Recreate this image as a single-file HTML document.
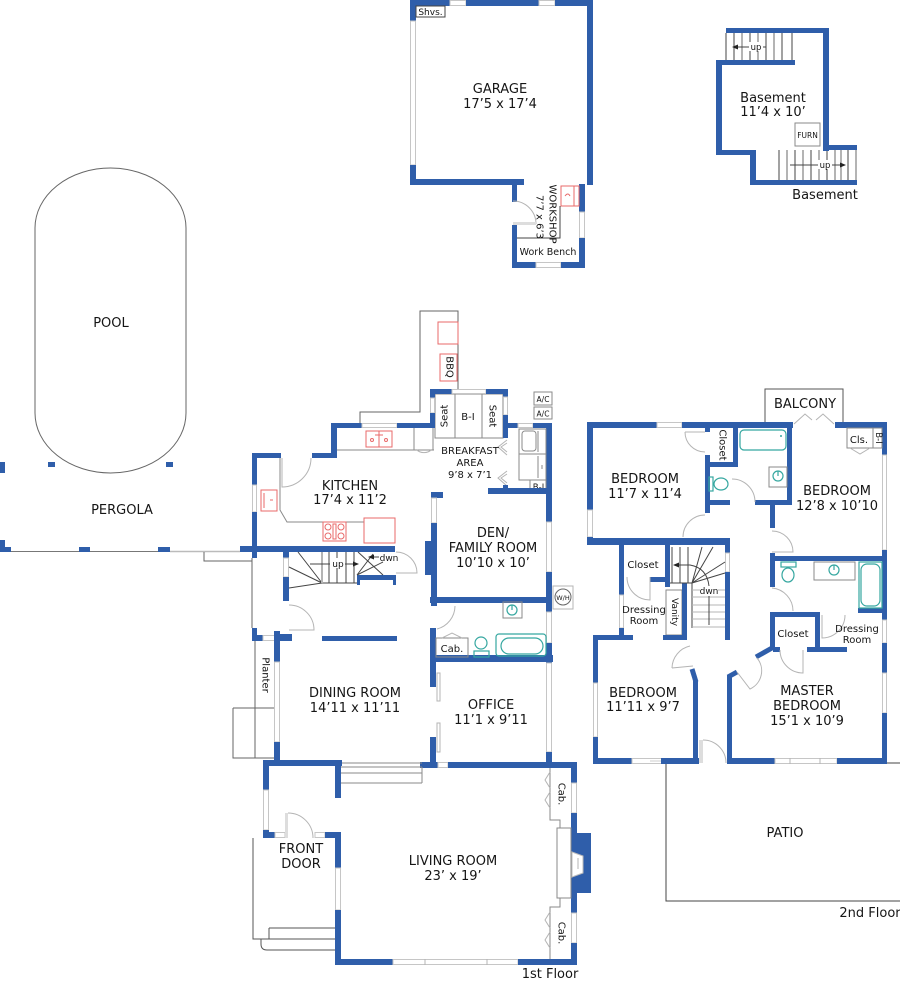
<!DOCTYPE html>
<html><head><meta charset="utf-8"><style>
html,body{margin:0;padding:0;background:#fff;}
svg{display:block}
.w{fill:#2f5eaa}
.n{fill:#fff;stroke:#c6c6c6;stroke-width:1}
.l{fill:none;stroke:#444;stroke-width:1}
.g{fill:none;stroke:#8a8a8a;stroke-width:1}
.gl{fill:none;stroke:#b4b4b4;stroke-width:1}
.r{fill:none;stroke:#e86a6a;stroke-width:1}
.t{fill:none;stroke:#35a7a0;stroke-width:1.2}
.bw{stroke:#2f5eaa;stroke-width:5;fill:none}
text{font-family:"DejaVu Sans","Liberation Sans",sans-serif;fill:#151515;text-anchor:middle}
.L{font-size:13px}
.s{font-size:10px}
.xs{font-size:8.5px}
</style></head><body>
<svg width="900" height="981" viewBox="0 0 900 981" xmlns="http://www.w3.org/2000/svg">

<!-- ================= GARAGE ================= -->
<rect class="w" x="410" y="0" width="40" height="6"/>
<rect class="n" x="450" y="0.5" width="16" height="5"/>
<rect class="w" x="466" y="0" width="73" height="6"/>
<rect class="n" x="539" y="0.5" width="16" height="5"/>
<rect class="w" x="555" y="0" width="38" height="6"/>
<rect class="w" x="410" y="0" width="6" height="21"/>
<rect class="n" x="410.5" y="21" width="5" height="144"/>
<rect class="w" x="410" y="165" width="6" height="20"/>
<rect class="w" x="587" y="0" width="6" height="185"/>
<rect class="w" x="410" y="179" width="114" height="6"/>
<rect class="w" x="512" y="179" width="5" height="23"/>
<rect class="w" x="512" y="225" width="5" height="43"/>
<rect class="w" x="579" y="184" width="6" height="28"/>
<rect class="n" x="579.5" y="212" width="5" height="26"/>
<rect class="w" x="579" y="238" width="6" height="30"/>
<rect class="w" x="512" y="262" width="24" height="6"/>
<rect class="n" x="536" y="262.5" width="25" height="5"/>
<rect class="w" x="561" y="262" width="24" height="6"/>
<path class="gl" d="M513,201 A23,23 0 0,1 536,224"/>
<rect x="513" y="222" width="23" height="3" fill="#ddd"/>
<path class="l" d="M517,238 H560 V206"/>
<rect class="r" x="561" y="186" width="18" height="20"/>
<path class="r" d="M574,186 V206 M565,196 q3,-4 5,0"/>
<rect class="l" x="416" y="6" width="29" height="11"/>
<text x="430.5" y="15" style="font-size:9px">Shvs.</text>
<text class="L" x="500" y="93">GARAGE</text>
<text class="L" x="500" y="108">17’5 x 17’4</text>
<text transform="translate(552,214) rotate(90)" class="s" dominant-baseline="central">WORKSHOP</text>
<text transform="translate(539,217) rotate(90)" class="s" dominant-baseline="central">7’7 x 6’3</text>
<text x="548" y="255" style="font-size:9.5px">Work Bench</text>

<!-- ================= BASEMENT ================= -->
<g class="l">
<path d="M726,33 V60 M734,33 V60 M750,33 V60 M766,33 V60 M782,33 V60 M792,33 V60"/>
</g>
<path class="gl" d="M742,33 V60 M758,33 V60 M774,33 V60" style="stroke-width:2"/>
<path class="l" d="M779,150 V180 M795,150 V180 M811,150 V180 M827,150 V180 M848,150 V180"/>
<path class="gl" d="M787,150 V180 M803,150 V180 M819,150 V180 M835,150 V180 M841,150 V180 M856,150 V180" style="stroke-width:2"/>
<rect class="w" x="726" y="28" width="103" height="5"/>
<rect class="w" x="823" y="28" width="6" height="123"/>
<rect class="w" x="823" y="145" width="34" height="5"/>
<rect class="w" x="716" y="60" width="79" height="5"/>
<rect class="w" x="716" y="60" width="6" height="95"/>
<rect class="w" x="716" y="150" width="40" height="5"/>
<rect class="w" x="750" y="150" width="6" height="35"/>
<rect class="w" x="750" y="180" width="107" height="5"/>
<path class="l" d="M736,47 H766"/>
<polygon points="732,47 738,44.5 738,49.5" fill="#222"/>
<rect x="749" y="42" width="14" height="9" fill="#fff"/>
<text x="756" y="50" class="xs">up</text>
<path class="l" d="M790,165 H842"/>
<polygon points="846,165 840,162.5 840,167.5" fill="#222"/>
<rect x="818" y="160" width="14" height="9" fill="#fff"/>
<text x="825" y="168" class="xs">up</text>
<rect class="g" x="795" y="123" width="25" height="23"/>
<text x="807.5" y="138" style="font-size:7.5px">FURN</text>
<text class="L" x="773" y="102">Basement</text>
<text class="L" x="773" y="116">11’4 x 10’</text>
<text class="L" x="825" y="199">Basement</text>

<!-- ================= POOL / PERGOLA ================= -->
<path class="l" d="M35,228 A75.5,60 0 0,1 186,228 V413 A75.5,60 0 0,1 35,413 Z" style="stroke:#666"/>
<text class="L" x="111" y="327">POOL</text>
<rect class="w" x="0" y="462" width="5" height="11"/>
<rect class="w" x="48" y="462" width="7" height="5"/>
<rect class="w" x="166" y="462" width="7" height="5"/>
<text class="L" x="122" y="514">PERGOLA</text>
<path d="M11,551.5 H170" stroke="#777" stroke-width="1"/>
<path d="M170,551.5 H240" stroke="#bbb" stroke-width="1.5"/>
<rect class="w" x="0" y="540" width="5" height="12"/>
<rect class="w" x="0" y="547" width="11" height="5"/>
<rect class="w" x="79" y="547" width="11" height="5"/>
<rect class="w" x="158" y="547" width="12" height="5"/>
<rect class="w" x="240" y="547" width="12" height="5"/>
<path class="g" d="M204,552 V561 H252 M252,558 V628" style="stroke:#666"/>

<!-- planter -->
<path class="l" d="M255,640 V758 M233,708 H275 M233,708 V758 H275" style="stroke:#666"/>
<text transform="translate(265,675) rotate(90)" class="s" dominant-baseline="central">Planter</text>

<!-- ================= 1ST FLOOR: BBQ / NOOK ================= -->
<path class="l" d="M360,423 V412 H420 V311 H458 V389" style="stroke:#666"/>
<rect class="r" x="438" y="322" width="20" height="22"/>
<rect class="r" x="440" y="354" width="17" height="27"/>
<text transform="translate(449,367) rotate(90)" class="s" dominant-baseline="central">BBQ</text>

<rect class="g" x="435" y="394" width="20" height="44"/>
<rect class="g" x="455" y="394" width="27" height="44"/>
<rect class="g" x="482" y="394" width="21" height="44"/>
<text transform="translate(445,416) rotate(-90)" class="s" dominant-baseline="central">Seat</text>
<text x="468" y="420" class="s">B-I</text>
<text transform="translate(492,416) rotate(90)" class="s" dominant-baseline="central">Seat</text>

<rect class="w" x="331" y="423" width="31" height="5"/>
<rect class="n" x="362" y="423.5" width="35" height="4"/>
<rect class="w" x="397" y="423" width="38" height="5"/>
<rect class="w" x="430" y="389" width="5" height="9"/>
<rect class="n" x="430.5" y="398" width="4" height="15"/>
<rect class="w" x="430" y="413" width="5" height="15"/>
<rect class="w" x="430" y="389" width="22" height="5"/>
<rect class="n" x="452" y="389.5" width="34" height="4"/>
<rect class="w" x="486" y="389" width="22" height="5"/>
<rect class="w" x="503" y="389" width="5" height="8"/>
<rect class="n" x="503.5" y="397" width="4" height="18"/>
<rect class="w" x="503" y="415" width="5" height="23"/>
<rect class="w" x="503" y="423" width="15" height="5"/>
<rect class="n" x="518" y="423.5" width="15" height="4"/>
<rect class="w" x="533" y="423" width="19" height="5"/>
<rect class="w" x="546" y="423" width="6" height="99"/>
<rect class="n" x="546.5" y="522" width="5" height="50"/>
<rect class="w" x="546" y="572" width="6" height="40"/>
<rect class="n" x="546.5" y="612" width="5" height="31"/>
<rect class="w" x="546" y="643" width="6" height="20"/>
<rect class="n" x="546.5" y="663" width="5" height="89"/>
<rect class="w" x="546" y="752" width="6" height="16"/>

<!-- A/C, laundry -->
<rect class="g" x="534" y="392" width="18" height="13"/>
<rect class="g" x="534" y="407" width="18" height="12"/>
<text x="543" y="402" style="font-size:7.5px">A/C</text>
<text x="543" y="416.5" style="font-size:7.5px">A/C</text>
<rect class="g" x="519" y="429" width="27" height="25"/>
<rect class="g" x="522" y="431" width="14" height="20" rx="3"/>
<path class="g" d="M538,431 V452"/>
<rect class="g" x="519" y="454" width="27" height="26"/>
<path class="g" d="M538,456 V478 M542,465 V469"/>
<rect class="g" x="530" y="480" width="16" height="13"/>
<text x="538.5" y="490" style="font-size:8.5px">B-I</text>
<path class="gl" d="M507,440 L498,447 L507,455 M507,443 L501,447 L507,452"/>
<path class="gl" d="M507,471 L498,478 L507,486 M507,474 L501,478 L507,483"/>

<!-- Kitchen walls -->
<rect class="w" x="331" y="423" width="6" height="35"/>
<rect class="w" x="312" y="453" width="25" height="5"/>
<rect class="w" x="252" y="453" width="29" height="5"/>
<rect class="w" x="252" y="453" width="5" height="32"/>
<rect class="n" x="252.5" y="485" width="4" height="27"/>
<rect class="w" x="252" y="512" width="5" height="46"/>
<rect class="w" x="240" y="546" width="155" height="6"/>

<!-- Kitchen fixtures -->
<path class="g" d="M337,450 H434 M414,428 V450 M433,428 V450"/>
<path class="gl" d="M417,450 A8,5 0 0,0 431,450"/>
<rect class="r" x="366" y="431" width="26" height="16"/>
<path class="r" d="M379,431 V447 M375,435 L383,435"/>
<circle class="r" cx="372" cy="440" r="1.5"/><circle class="r" cx="386" cy="440" r="1.5"/>
<path class="g" d="M280,458 V510 L287,522 H364"/>
<path class="gl" d="M311,458 A29,29 0 0,1 282,487 V458"/>
<rect class="r" x="261" y="490" width="16" height="21"/>
<path class="r" d="M264,493 V508 M270,500 l3,0"/>
<rect class="r" x="323" y="522" width="23" height="19"/>
<rect class="r" x="333" y="524" width="3" height="15"/>
<circle class="r" cx="328" cy="527" r="3"/><circle class="r" cx="341" cy="527" r="3"/>
<circle class="r" cx="328" cy="536" r="3"/><circle class="r" cx="341" cy="536" r="3"/>
<rect class="r" x="364" y="518" width="31" height="25"/>
<text class="L" x="350" y="490">KITCHEN</text>
<text class="L" x="350" y="504">17’4 x 11’2</text>
<text x="470" y="454" class="s">BREAKFAST</text>
<text x="470" y="466" class="s">AREA</text>
<text x="470" y="478" class="s">9’8 x 7’1</text>

<!-- Den -->
<rect class="w" x="488" y="488" width="64" height="6"/>
<rect class="w" x="503" y="485" width="5" height="9"/>
<rect class="w" x="431" y="492" width="12" height="6"/>
<rect class="n" x="431.5" y="498" width="5" height="25"/>
<rect class="w" x="431" y="523" width="6" height="83"/>
<rect class="w" x="425" y="541" width="7" height="34"/>
<rect class="w" x="430" y="597" width="122" height="6"/>
<text class="L" x="493" y="537">DEN/</text>
<text class="L" x="493" y="552">FAMILY ROOM</text>
<text class="L" x="493" y="567">10’10 x 10’</text>
<rect class="gl" x="553" y="586" width="20" height="23"/>
<circle class="l" cx="563" cy="597" r="8" style="stroke:#666"/>
<text x="563" y="600" style="font-size:6.5px">W/H</text>

<!-- Stairs & hall -->
<rect class="w" x="283" y="546" width="6" height="12"/>
<rect class="n" x="283.5" y="558" width="5" height="19"/>
<rect class="w" x="283" y="577" width="6" height="24"/>
<rect class="w" x="357" y="575" width="39" height="5"/>
<rect class="w" x="357" y="575" width="3" height="10"/>
<rect class="w" x="393" y="575" width="3" height="10"/>
<path class="l" d="M329,552 V583 M337,552 V583 M346,552 V583 M354,552 V583 M322,583 H357 M298,552 L322,583 L289,567 M289,588 L322,583"/>
<path class="gl" d="M322,552 V583" style="stroke-width:2"/>
<path class="l" d="M358,552 L383,575 M357,575 L373,554 M357,575 L383,562"/>
<path class="l" d="M310,564 H355"/>
<polygon points="359,564 353,561.5 353,566.5" fill="#222"/>
<rect x="330" y="558" width="15" height="10" fill="#fff"/>
<text x="338" y="567" style="font-size:9px">up</text>
<path class="l" d="M372,557 H379"/>
<polygon points="368,557 374,554.5 374,559.5" fill="#222"/>
<text x="389" y="561" style="font-size:9px">dwn</text>
<path class="gl" d="M396,552 A21,21 0 0,1 417,573 H396"/>
<path class="gl" d="M289,605 A25,25 0 0,1 314,630 H289"/>

<!-- Dining -->
<rect class="w" x="322" y="636" width="75" height="5"/>
<rect class="w" x="252" y="628" width="5" height="13"/>
<rect class="w" x="252" y="635" width="11" height="6"/>
<rect class="n" x="263" y="635.5" width="12" height="5"/>
<rect class="w" x="275" y="634" width="17" height="7"/>
<rect class="w" x="274" y="631" width="6" height="31"/>
<rect class="n" x="274.5" y="662" width="5" height="80"/>
<rect class="w" x="274" y="742" width="6" height="24"/>
<text class="L" x="355" y="697">DINING ROOM</text>
<text class="L" x="355" y="712">14’11 x 11’11</text>

<!-- Bath / office -->
<rect class="w" x="430" y="628" width="6" height="59"/>
<rect class="w" x="430" y="655" width="123" height="7"/>
<rect class="w" x="430" y="737" width="6" height="31"/>
<path class="gl" d="M455,606 A24,24 0 0,1 437,629"/>
<rect class="gl" x="437" y="673" width="3" height="28"/>
<rect class="gl" x="437" y="723" width="3" height="29"/>
<rect class="g" x="503" y="602" width="19" height="16"/>
<circle class="t" cx="512" cy="610" r="5"/>
<path class="t" d="M512,605 V610"/>
<rect class="g" x="436" y="638" width="32" height="19"/>
<path class="gl" d="M442,638 L452,633 L462,638"/>
<text x="452" y="652" class="s">Cab.</text>
<circle class="t" cx="481" cy="643" r="6"/>
<rect class="t" x="474" y="651" width="15" height="6"/>
<rect class="t" x="496" y="634" width="50" height="22" rx="3"/>
<rect class="t" x="501" y="638" width="42" height="16" rx="8"/>
<text class="L" x="491" y="709">OFFICE</text>
<text class="L" x="491" y="724">11’1 x 9’11</text>

<!-- Living -->
<rect class="w" x="420" y="762" width="18" height="6"/>
<rect class="n" x="438" y="762.5" width="10" height="5"/>
<rect class="w" x="448" y="762" width="129" height="6"/>
<rect class="w" x="571" y="762" width="6" height="21"/>
<rect class="n" x="571.5" y="783" width="5" height="30"/>
<rect class="w" x="571" y="813" width="6" height="100"/>
<rect class="n" x="571.5" y="913" width="5" height="30"/>
<rect class="w" x="571" y="943" width="6" height="22"/>
<rect class="w" x="571" y="833" width="20" height="60"/>
<path d="M572,852 L583,856 L583,873 L572,877 Z" fill="#fff" stroke="#bbb"/>
<path class="gl" d="M578,858 V869"/>
<rect x="557" y="828" width="14" height="70" fill="#fff" stroke="#8a8a8a"/>
<path class="g" d="M550,768 V820 H560 V828 M560,898 V907 H550 V960"/>
<path class="gl" d="M550,772 L545,780 L550,788 M550,792 L545,800 L550,808 M550,912 L545,920 L550,928 M550,932 L545,940 L550,948"/>
<text transform="translate(561,794) rotate(90)" class="s" dominant-baseline="central">Cab.</text>
<text transform="translate(561,933) rotate(90)" class="s" dominant-baseline="central">Cab.</text>
<rect class="w" x="335" y="959" width="58" height="6"/>
<rect class="n" x="393" y="959.5" width="125" height="5"/>
<path class="gl" d="M425,959 V965 M487,959 V965"/>
<rect class="w" x="518" y="959" width="59" height="6"/>
<rect class="w" x="335" y="765" width="6" height="33"/>
<rect class="w" x="335" y="832" width="6" height="36"/>
<rect class="n" x="335.5" y="868" width="5" height="42"/>
<rect class="w" x="335" y="910" width="6" height="55"/>
<path class="g" d="M341,763 H422 M341,767 H422 M341,773 H422 M341,783 H422 M422,767 V783"/>
<text class="L" x="453" y="865">LIVING ROOM</text>
<text class="L" x="453" y="880">23’ x 19’</text>
<text class="L" x="550" y="978">1st Floor</text>

<!-- Front door -->
<rect class="w" x="263" y="760" width="79" height="6"/>
<rect class="w" x="263" y="760" width="6" height="30"/>
<rect class="n" x="263.5" y="790" width="5" height="40"/>
<rect class="w" x="263" y="830" width="6" height="8"/>
<rect class="w" x="263" y="832" width="12" height="6"/>
<rect class="n" x="275" y="832.5" width="10" height="5"/>
<rect class="n" x="315" y="832.5" width="10" height="5"/>
<rect class="w" x="325" y="832" width="16" height="6"/>
<rect x="285" y="813" width="3" height="25" fill="#ddd"/>
<path class="gl" d="M288,813 A25,25 0 0,1 313,838"/>
<path class="l" d="M253,838 V939 H335 M269,928 H335 M269,928 V939 M261,939 V944 Q261,950 267,950 H335" style="stroke:#555"/>
<text class="L" x="301" y="853">FRONT</text>
<text class="L" x="301" y="868">DOOR</text>

<!-- ================= 2ND FLOOR ================= -->
<path class="l" d="M765,423 V389 H843 V423" style="stroke:#555"/>
<text class="L" x="805" y="408">BALCONY</text>
<path class="gl" d="M794,424 L805,414 L812,420 M834,424 L823,414 L816,420"/>

<rect class="w" x="587" y="422" width="70" height="6"/>
<rect class="n" x="657" y="422.5" width="25" height="5"/>
<rect class="w" x="682" y="422" width="111" height="6"/>
<rect class="w" x="835" y="422" width="52" height="6"/>

<rect class="w" x="587" y="422" width="6" height="88"/>
<rect class="n" x="587.5" y="510" width="5" height="27"/>
<rect class="w" x="587" y="537" width="6" height="8"/>
<rect class="w" x="587" y="538" width="143" height="7"/>

<rect class="w" x="705" y="422" width="5" height="10"/>
<rect class="w" x="705" y="455" width="5" height="58"/>
<rect class="w" x="705" y="462" width="32" height="5"/>
<rect class="w" x="733" y="422" width="5" height="45"/>
<rect class="w" x="787" y="422" width="5" height="82"/>
<rect class="w" x="705" y="500" width="25" height="5"/>
<rect class="w" x="755" y="500" width="37" height="5"/>
<path class="gl" d="M685,432 A20,20 0 0,0 705,452 M685,432 H705"/>
<path class="gl" d="M683,537 A22,22 0 0,1 705,515"/>
<path class="gl" d="M732,479 A23,23 0 0,1 755,502"/>
<text transform="translate(722,445) rotate(90)" class="s" dominant-baseline="central">Closet</text>
<rect class="t" x="740" y="430" width="46" height="20" rx="4"/>
<circle cx="781" cy="436" r="1" fill="#35a7a0"/>
<rect class="g" x="769" y="467" width="18" height="20"/>
<circle class="t" cx="778" cy="476" r="5"/>
<path class="t" d="M778,471 V476"/>
<rect class="t" x="709" y="477" width="4" height="14"/>
<ellipse class="t" cx="721" cy="484" rx="7" ry="6"/>

<rect class="w" x="770" y="500" width="5" height="28"/>
<path class="gl" d="M772,531 A21,21 0 0,1 793,552 H772"/>
<rect class="w" x="882" y="422" width="5" height="33"/>
<rect class="n" x="882.5" y="455" width="4" height="95"/>
<rect class="w" x="882" y="550" width="5" height="70"/>
<rect class="w" x="770" y="556" width="117" height="5"/>
<rect class="g" x="847" y="428" width="26" height="20"/>
<rect class="g" x="873" y="428" width="9" height="20"/>
<path class="gl" d="M850,448 L860,454 L870,448"/>
<text x="859" y="443" class="s">Cls.</text>
<text transform="translate(878,438) rotate(90)" style="font-size:8.5px" dominant-baseline="central">B-I</text>
<text class="L" x="645" y="483">BEDROOM</text>
<text class="L" x="645" y="498">11’7 x 11’4</text>
<text class="L" x="837" y="495">BEDROOM</text>
<text class="L" x="837" y="510">12’8 x 10’10</text>

<!-- master bath -->
<rect class="w" x="770" y="553" width="5" height="34"/>
<path class="gl" d="M772,588 A23,23 0 0,1 793,611"/>
<rect class="w" x="858" y="608" width="29" height="5"/>
<rect class="t" x="781" y="562" width="15" height="5"/>
<ellipse class="t" cx="788" cy="575" rx="6" ry="7"/>
<rect class="g" x="814" y="562" width="41" height="18"/>
<circle class="t" cx="834" cy="570" r="5"/>
<path class="t" d="M834,565 V570"/>
<rect class="t" x="859" y="562" width="23" height="46"/>
<rect class="t" x="861" y="564" width="19" height="42" rx="6"/>
<path class="gl" d="M845,615 A23,23 0 0,1 822,638 V615"/>
<text x="857" y="632" class="s">Dressing</text>
<text x="857" y="643" class="s">Room</text>

<!-- master closet -->
<rect class="w" x="770" y="612" width="5" height="38"/>
<rect class="w" x="770" y="612" width="50" height="5"/>
<rect class="w" x="815" y="612" width="5" height="38"/>
<rect class="w" x="773" y="647" width="7" height="5"/>
<rect class="w" x="807" y="647" width="40" height="5"/>
<path class="gl" d="M780,650 A23,23 0 0,0 803,673 V650"/>
<text x="793" y="637" class="s">Closet</text>
<path class="bw" d="M756,657 L772,648"/>
<path class="bw" d="M728,677 L737,672"/>
<path class="gl" d="M737,672 L750,689 A20,20 0 0,0 757,658"/>

<rect class="n" x="882.5" y="620" width="4" height="23"/>
<rect class="w" x="882" y="643" width="5" height="30"/>
<rect class="n" x="882.5" y="673" width="4" height="40"/>
<rect class="w" x="882" y="713" width="5" height="50"/>
<rect class="w" x="727" y="675" width="5" height="88"/>
<rect class="w" x="727" y="758" width="48" height="6"/>
<rect class="n" x="775" y="758.5" width="62" height="5"/>
<path class="gl" d="M790,758 V764 M820,758 V764"/>
<rect class="w" x="837" y="758" width="50" height="6"/>
<text class="L" x="807" y="695">MASTER</text>
<text class="L" x="807" y="710">BEDROOM</text>
<text class="L" x="807" y="725">15’1 x 10’9</text>

<!-- bedroom 3 / closet / stairs -->
<rect class="w" x="619" y="540" width="5" height="55"/>
<rect class="n" x="619.5" y="595" width="4" height="33"/>
<rect class="w" x="619" y="628" width="5" height="12"/>
<rect class="w" x="665" y="540" width="5" height="47"/>
<rect class="w" x="650" y="577" width="20" height="5"/>
<path class="gl" d="M627,577 A23,23 0 0,0 650,600 V577"/>
<text x="643" y="568" class="s">Closet</text>
<text x="644" y="613" class="s">Dressing</text>
<text x="644" y="624" class="s">Room</text>
<rect class="g" x="666" y="590" width="16" height="45"/>
<text transform="translate(674,612) rotate(90)" style="font-size:9px" dominant-baseline="central">Vanity</text>
<rect class="w" x="682" y="583" width="5" height="54"/>
<rect class="w" x="593" y="635" width="40" height="5"/>
<rect class="w" x="663" y="635" width="24" height="5"/>
<rect class="w" x="593" y="635" width="5" height="48"/>
<rect class="n" x="593.5" y="683" width="4" height="54"/>
<rect class="w" x="593" y="737" width="5" height="26"/>
<rect class="w" x="593" y="758" width="39" height="6"/>
<rect class="n" x="632" y="758.5" width="30" height="5"/>
<rect class="w" x="662" y="758" width="37" height="6"/>
<rect class="w" x="693" y="680" width="5" height="84"/>
<path class="bw" d="M692,669 L696,682"/>
<path class="gl" d="M672,668 A23,23 0 0,1 690,646 M672,668 L693,666"/>
<path class="gl" d="M703,740 A23,23 0 0,1 726,763"/>
<rect x="699" y="740" width="4" height="23" fill="#ddd"/>
<text class="L" x="643" y="697">BEDROOM</text>
<text class="L" x="643" y="711">11’11 x 9’7</text>

<rect class="w" x="725" y="540" width="5" height="13"/>
<rect class="n" x="725.5" y="553" width="4" height="19"/>
<rect class="w" x="725" y="572" width="5" height="68"/>
<path class="l" d="M672,547 V583 M680,547 V583 M688,547 V583 M670,583 H692 M692,583 V628"/>
<path class="gl" d="M692,590 H725 M692,597 H725 M692,605 H725 M692,612 H725 M692,619 H725 M692,627 H725"/>
<path class="l" d="M692,583 L713,547 M692,583 L725,562 M692,583 L725,573 M692,583 L702,547"/>
<path class="l" d="M709,625 V586 Q707,568 690,565 H677"/>
<polygon points="673,565 679,562.5 679,567.5" fill="#222"/>
<rect x="700" y="586" width="18" height="10" fill="#fff"/>
<text x="709" y="594" style="font-size:9px">dwn</text>

<!-- patio -->
<path class="l" d="M650,761 H661" style="stroke:#ccc"/>
<rect class="w" x="661" y="758" width="38" height="6"/>
<path class="l" d="M666,764 V901 H900 M887,763 H900" style="stroke:#444"/>
<text class="L" x="785" y="837">PATIO</text>
<text class="L" x="870" y="917">2nd Floor</text>
</svg>
</body></html>
